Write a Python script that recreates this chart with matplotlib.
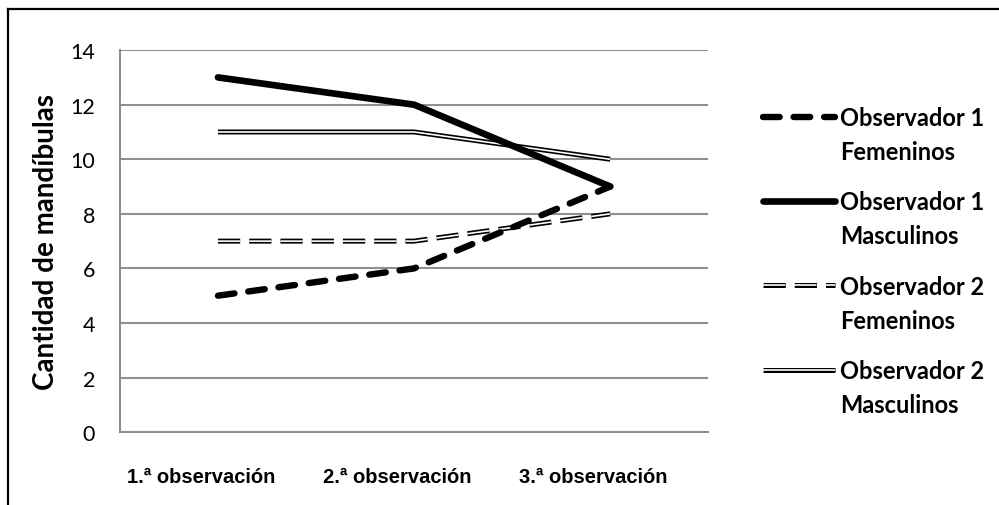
import matplotlib
matplotlib.use('Agg')
import matplotlib.pyplot as plt
from matplotlib.lines import Line2D
from matplotlib.transforms import offset_copy

plt.rcParams['lines.scale_dashes'] = False

# Datos
categorias = ['1.ª observación', '2.ª observación', '3.ª observación']
obs1_fem = [5, 6, 9]
obs1_masc = [13, 12, 9]
obs2_fem = [7, 7, 8]
obs2_masc = [11, 11, 10]
leyenda_l1 = ['Observador 1', 'Observador 1', 'Observador 2', 'Observador 2']
leyenda_l2 = ['Femeninos', 'Masculinos', 'Femeninos', 'Masculinos']
y_ticks = [0, 2, 4, 6, 8, 10, 12, 14]

calibri = 'Lato'
gris = '#8f8f8f'

fig = plt.figure(figsize=(9.99, 5.06), dpi=100)
ax = fig.add_axes([0.120, 0.144, 0.589, 0.755])

x = range(len(categorias))

# Observador 2 Masculinos (doble línea)
m2_b, = ax.plot(x, obs2_masc, color='black', lw=3.6, solid_capstyle='butt', zorder=3)
m2_w, = ax.plot(x, obs2_masc, color='white', lw=1.2, solid_capstyle='butt', zorder=3.1)
# Observador 2 Femeninos (doble línea discontinua)
f2_b, = ax.plot(x, obs2_fem, color='black', lw=3.6, dashes=(16, 6.5), dash_capstyle='butt', zorder=3)
f2_w, = ax.plot(x, obs2_fem, color='white', lw=1.2, dashes=(16, 6.5), dash_capstyle='butt', zorder=3.1)
# Observador 1 Femeninos (discontinua gruesa)
f1, = ax.plot(x, obs1_fem, color='black', lw=4.6, dashes=(12, 10), dash_capstyle='round', zorder=4)
# Observador 1 Masculinos (continua gruesa)
m1, = ax.plot(x, obs1_masc, color='black', lw=4.8, solid_capstyle='round', zorder=4)

ax.set_xlim(-0.5, 2.5)
ax.set_ylim(0, 14)
ax.set_yticks(y_ticks)
ax.set_xticks(list(x))
ax.set_xticklabels(categorias, fontfamily='Liberation Sans', fontweight='bold', fontsize=14.5)
ax.tick_params(axis='y', length=0, pad=18, labelsize=15.5)
ax.tick_params(axis='x', length=0, pad=25)
for lab in ax.get_yticklabels():
    lab.set_fontfamily(calibri)
for lab in ax.get_xticklabels():
    lab.set_transform(offset_copy(lab.get_transform(), fig=fig, x=-17, y=0, units='dots'))

ax.grid(axis='y', color=gris, lw=1.5)
ax.set_axisbelow(True)
for s in ['top', 'right']:
    ax.spines[s].set_visible(False)
for s in ['left', 'bottom']:
    ax.spines[s].set_color(gris)
    ax.spines[s].set_linewidth(1.5)

ax.set_ylabel('Cantidad de mandíbulas', fontfamily=calibri, fontweight='bold', fontsize=20)
ax.yaxis.set_label_coords(-0.104, 0.5)

handles = [f1, m1, (f2_b, f2_w), (m2_b, m2_w)]
leg = fig.legend(handles, leyenda_l1, loc='upper left', bbox_to_anchor=(0.752, 0.812),
                 frameon=False, handlelength=3.05, handletextpad=0.2, labelspacing=2.6,
                 borderpad=0, prop={'family': calibri, 'weight': 'bold', 'size': 17})

# Segunda línea de cada entrada de la leyenda
fig.canvas.draw()
renderer = fig.canvas.get_renderer()
inv = fig.transFigure.inverted()
for t, l2 in zip(leg.get_texts(), leyenda_l2):
    bb = t.get_window_extent(renderer)
    fx, fy = inv.transform((bb.x0, bb.y0 - 34))
    fig.text(fx, fy, l2, ha='left', va='bottom', fontfamily=calibri, fontweight='bold', fontsize=17)

# Marco exterior (superior e izquierdo)
fig.add_artist(Line2D([0.008, 1.0], [0.980, 0.980], transform=fig.transFigure, color='black', lw=1.6))
fig.add_artist(Line2D([0.008, 0.008], [0.0, 0.980], transform=fig.transFigure, color='black', lw=1.6))

fig.savefig('out.png', dpi=100)
